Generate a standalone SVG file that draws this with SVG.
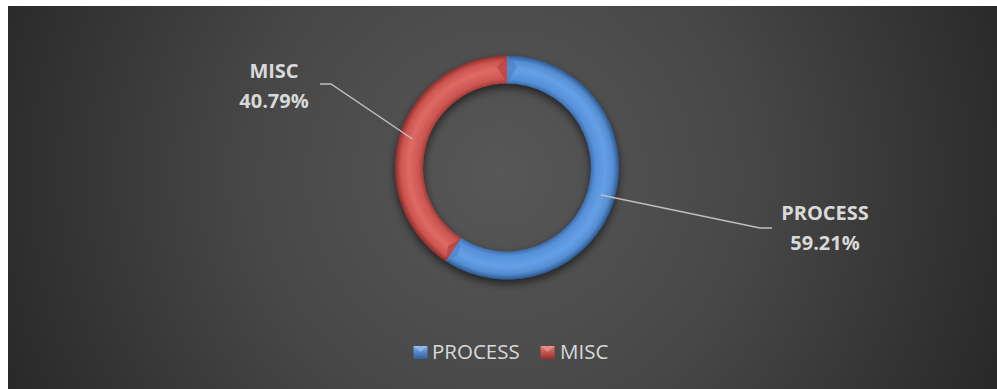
<svg xmlns="http://www.w3.org/2000/svg" width="997" height="389" viewBox="0 0 997 389">
  <defs>
    <radialGradient id="bg" cx="500" cy="175" r="560" gradientUnits="userSpaceOnUse">
      <stop offset="0" stop-color="#575757"/>
      <stop offset="0.45" stop-color="#474747"/>
      <stop offset="1" stop-color="#262626"/>
    </radialGradient>
    <radialGradient id="blueG" cx="507" cy="167.5" r="112" gradientUnits="userSpaceOnUse">
      <stop offset="0.75" stop-color="#3e6fae"/>
      <stop offset="0.79" stop-color="#5690d8"/>
      <stop offset="0.88" stop-color="#65a0e6"/>
      <stop offset="0.95" stop-color="#558dd2"/>
      <stop offset="1" stop-color="#2d5a92"/>
    </radialGradient>
    <radialGradient id="redG" cx="507" cy="167.5" r="112" gradientUnits="userSpaceOnUse">
      <stop offset="0.75" stop-color="#a63c38"/>
      <stop offset="0.79" stop-color="#cc5652"/>
      <stop offset="0.88" stop-color="#de6a64"/>
      <stop offset="0.95" stop-color="#cc5450"/>
      <stop offset="1" stop-color="#8e2e2b"/>
    </radialGradient>
    <linearGradient id="legB" x1="0" y1="0" x2="0" y2="1">
      <stop offset="0" stop-color="#7fb0ea"/>
      <stop offset="1" stop-color="#2f5e9a"/>
    </linearGradient>
    <linearGradient id="legR" x1="0" y1="0" x2="0" y2="1">
      <stop offset="0" stop-color="#e87a74"/>
      <stop offset="1" stop-color="#982f2c"/>
    </linearGradient>
    <filter id="shadow" x="-20%" y="-20%" width="140%" height="140%">
      <feGaussianBlur in="SourceAlpha" stdDeviation="4"/>
      <feOffset dx="0" dy="4" result="b"/>
      <feComponentTransfer><feFuncA type="linear" slope="0.6"/></feComponentTransfer>
      <feMerge><feMergeNode/><feMergeNode in="SourceGraphic"/></feMerge>
    </filter>
  </defs>
  <style>
    .lbl { font-family: "Open Sans", "Liberation Sans", sans-serif; font-weight: bold; font-size: 20px; fill: #d9d9d9; text-anchor: middle; }
    .leg { font-family: "Open Sans", "Liberation Sans", sans-serif; font-size: 20.5px; fill: #d9d9d9; }
    .lead { fill: none; stroke: #bfbfbf; stroke-width: 1.5; }
  </style>
  <rect x="0" y="0" width="997" height="389" fill="#ffffff"/>
  <rect x="8" y="6" width="989" height="383" fill="url(#bg)"/>

  <g id="donut" filter="url(#shadow)">
    <g id="slice-process">
      <path d="M507,55.5 A112,112 0 1 1 445.74,261.26 L461.05,237.82 A84,84 0 1 0 507,83.5 Z" fill="url(#blueG)"/>
      <path d="M507,55.5 L517,66 L507,83.5 Z" fill="#4a7fc4" opacity="0.6"/>
      <path d="M445.74,261.26 L461.05,237.82 L458,255 Z" fill="#4a80c6" opacity="0.6"/>
    </g>
    <g id="slice-misc">
      <path d="M445.74,261.26 A112,112 0 0 1 507,55.5 L507,83.5 A84,84 0 0 0 461.05,237.82 Z" fill="url(#redG)"/>
      <path d="M507,55.5 L497,67 L507,83.5 Z" fill="#b8433f" opacity="0.7"/>
      <path d="M445.74,261.26 L461.05,237.82 L448,246 Z" fill="#b0403c" opacity="0.7"/>
    </g>
  </g>

  <g id="connectors">
    <polyline class="lead" points="320,84 331,84 412.5,139"/>
    <polyline class="lead" points="601,195 760,228 772,228"/>
  </g>

  <g id="label-misc">
    <text class="lbl" x="274" y="78">MISC</text>
    <text class="lbl" x="274" y="108">40.79%</text>
  </g>
  <g id="label-process">
    <text class="lbl" x="825" y="220">PROCESS</text>
    <text class="lbl" x="825" y="250">59.21%</text>
  </g>

  <g id="legend">
    <rect x="413.5" y="346" width="14" height="13" fill="url(#legB)"/>
    <path d="M413.5,346 L427.5,346 L420.5,352 Z" fill="#9cc4f2" opacity="0.6"/>
    <text class="leg" x="432" y="359">PROCESS</text>
    <rect x="540.5" y="346" width="14" height="13" fill="url(#legR)"/>
    <path d="M540.5,346 L554.5,346 L547.5,352 Z" fill="#f19a94" opacity="0.6"/>
    <text class="leg" x="560" y="359">MISC</text>
  </g>
</svg>
